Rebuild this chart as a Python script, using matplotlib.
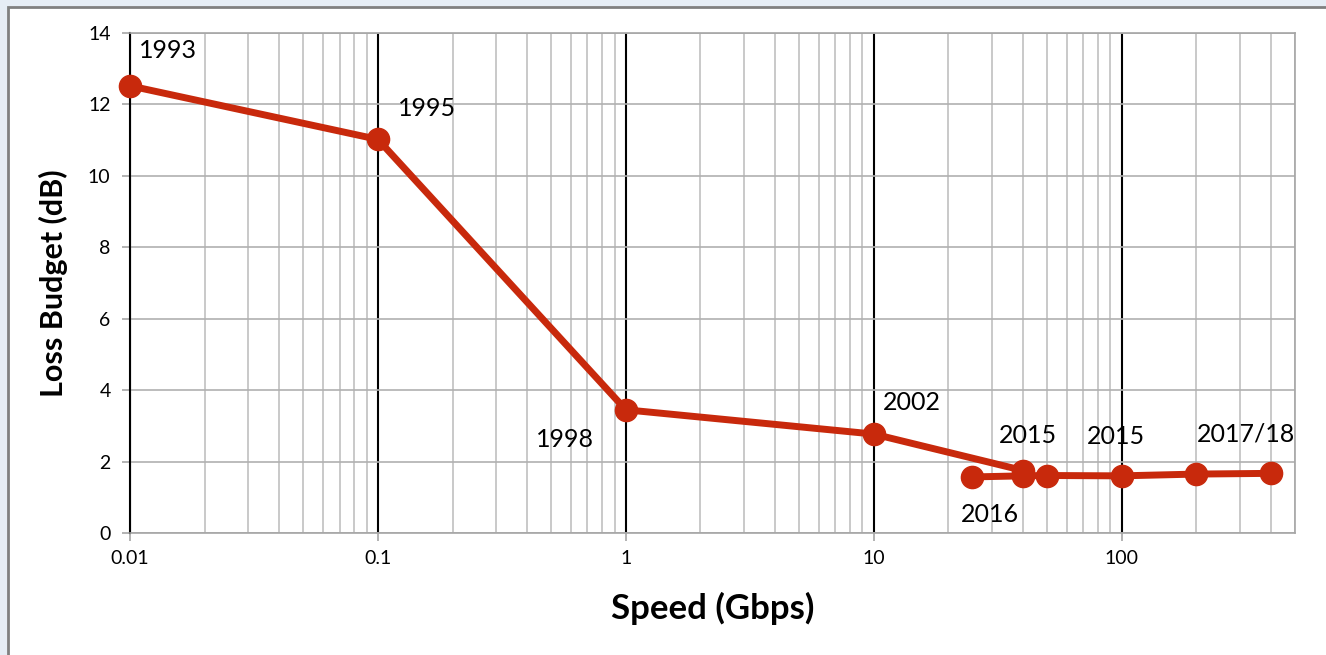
import matplotlib.pyplot as plt
from matplotlib.patches import Rectangle
from matplotlib.ticker import LogLocator, NullFormatter, FixedLocator, FixedFormatter

plt.rcParams['font.family'] = ['Lato', 'DejaVu Sans']

# main path, 1993 -> 2002 -> 40G
speed_a = [0.01, 0.1, 1, 10, 40]
loss_a = [12.52, 11.02, 3.45, 2.77, 1.75]
# newer generations
speed_b = [25, 40, 50, 100, 200, 400]
loss_b = [1.57, 1.60, 1.61, 1.60, 1.65, 1.67]

# year labels and where they sit (label centres)
years = ['1993', '1995', '1998', '2002', '2015', '2015', '2017/18', '2016']
year_x = [0.0142, 0.158, 0.567, 14.2, 41.8, 94.6, 316, 29.4]
year_y = [13.52, 11.9, 2.63, 3.64, 2.72, 2.69, 2.77, 0.53]

decades = [0.01, 0.1, 1, 10, 100]
decade_labels = ['0.01', '0.1', '1', '10', '100']

red = '#C8290C'

fig = plt.figure(figsize=(13.26, 6.55), dpi=100, facecolor='#E6EDF5')
fig.patches.append(Rectangle((8 / 1326, -0.01), 1.0, 1 - 7 / 655 + 0.01,
                             transform=fig.transFigure, facecolor='white',
                             edgecolor='#808080', linewidth=2, zorder=-5))

ax = fig.add_axes([130 / 1326, 122 / 655, 1165 / 1326, 500 / 655])
ax.set_zorder(2)
ax.set_facecolor('none')
ax.set_xscale('log')
ax.set_xlim(0.01, 500)
ax.set_ylim(0, 14)

ax.xaxis.set_major_locator(FixedLocator(decades))
ax.xaxis.set_major_formatter(FixedFormatter(decade_labels))
ax.xaxis.set_minor_locator(LogLocator(base=10, subs=range(2, 10), numticks=20))
ax.xaxis.set_minor_formatter(NullFormatter())
ax.set_yticks(range(0, 15, 2))

ax.grid(which='major', axis='x', color='black', linewidth=1.5)
ax.grid(which='minor', axis='x', color='#C0C0C0', linewidth=1.2)
ax.grid(which='major', axis='y', color='#B0B0B0', linewidth=1.2)
ax.set_axisbelow(True)

for side in ['top', 'right', 'bottom']:
    ax.spines[side].set_color('#A6A6A6')
    ax.spines[side].set_linewidth(1.2)
ax.spines['left'].set_color('black')
ax.spines['left'].set_linewidth(1.5)

ax.tick_params(axis='x', which='major', length=6, width=1.2, color='#A6A6A6',
               labelsize=14, pad=6)
ax.tick_params(axis='x', which='minor', length=0)
ax.tick_params(axis='y', length=6, width=1.2, color='#A6A6A6', labelsize=14, pad=8)

ax.plot(speed_a, loss_a, color=red, linewidth=5, marker='o', markersize=16,
        solid_capstyle='butt', zorder=3, clip_on=False)
ax.plot(speed_b, loss_b, color=red, linewidth=5, marker='o', markersize=16,
        zorder=3, clip_on=False)

for t, x, y in zip(years, year_x, year_y):
    ax.text(x, y, t, fontsize=18, ha='center', va='center', zorder=4)

ax.set_xlabel('Speed (Gbps)', fontsize=25, fontweight='bold', labelpad=18)
ax.set_ylabel('Loss Budget (dB)', fontsize=22, fontweight='bold', labelpad=14)

fig.savefig('out.png', dpi=100, facecolor=fig.get_facecolor())
